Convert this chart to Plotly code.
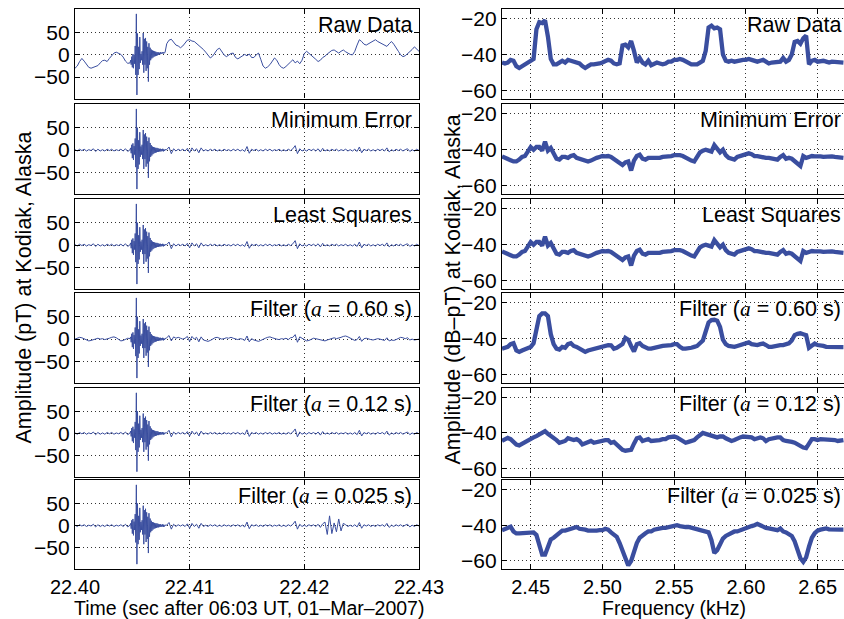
import numpy as np
import plotly.graph_objects as go

# ---------------- Left column: time series (pT) ----------------
T_PRE_START, T_PRE_STEP = 22.4000, 0.0002
T_BURST_START, T_BURST_STEP = 22.4048, 0.00005
T_POST_START, T_POST_STEP = 22.4080, 0.0002

raw_pre = [-30, -25, -15, -8, -14, -22, -28, -30, -28, -26, -24, -18, -13, -12, -15, -8,
           -2, 4, 6, 3, 1, -5, -14, -19]
raw_burst = [-18, -12, -22, -4, -28, 2, -30, 0, -20, 20, -45, 92, -90, 48, -45, 18, -32, 40,
             -18, 2, -12, 8, -22, 49, -40, 36, -22, 38, -36, 30, -30, 18, -60, 26, -22, 16,
             -12, 12, -8, 10, -6, 9, -4, 8, -3, 7, -2, 6, -1, 6, 0, 5, 1, 6, 2, 5, 3, 6, 3, 6, 4, 5]
raw_post = [25, 33, 35, 28, 22, 20, 16, 20, 28, 33, 34, 31, 30, 26, 22, 18, 12, 6, -2, -7,
            -3, 5, 12, 15, 8, 0, -4, 0, 3, 4, -6, -9, -6, -2, 1, -2, 2, -6, -6, 0,
            4, -10, -25, -30, -27, -22, -14, -7, -12, -22, -28, -30, -26, -22, -16, -11, -18, -14, -20, -12,
            3, 8, 4, 0, -5, -10, -15, -12, -6, -3, 2, 6, 10, 11, 7, 4, 8, 11, 7, 3,
            1, 0, 8, 22, 34, 30, 24, 22, 25, 28, 31, 34, 30, 27, 25, 21, 19, 25, 30, 24,
            17, 8, 0, -4, -2, 2, 6, 12, 18, 14, 8]

clean_pre = [1, -2, 2, -1, 2, -2, 1, -1, 3, -3, 2, -2, 1, -2, 2, -1, 2, -2, 1, -1, 2, -2, 3, -3]
clean_burst = [1, 5, -7, 12, -18, 15, -22, 9, -10, 26, -38, 92, -87, 50, -42, 22, -32, 40,
               -15, 8, -10, 12, -20, 45, -42, 35, -20, 38, -37, 30, -30, 20, -62, 28, -25, 16,
               -15, 11, -12, 8, -9, 7, -7, 6, -6, 5, -5, 5, -4, 4, -4, 3, -3, 3, -3, 2, -2, 3, -3, 2, -2, 1]
clean_post = [1, 7, -8, 3, -2, 2, -1, 2, -2, 4, -6, 5, -2, 3, -6, 5, -2, 1, -2, 2,
              -1, 2, -2, 1, -2, 2, -1, 1, -2, 2, -1, 2, -2, 1, -3, 8, -7, 2, -1, 2,
              -2, 1, -2, 2, -1, 2, -2, 1, -1, 2, -2, 1, -2, 2, -1, 3, 10, -8, 3, -2,
              1, -2, 2, -1, 2, -2, 3, -4, 4, -2, 1, -2, 2, -1, 2, -2, 1, -1, 2, -2,
              1, -2, 2, -3, 7, -6, 2, -1, 2, -2, 1, -2, 2, -1, 2, -2, 5, -4, 1, -2,
              2, -1, 2, -2, 1, 3, -3, 1, -2, 2, -1]
f060_pre = [0, 2, 4, 3, 1, -2, -4, -3, -1, 1, 2, 0, 1, -1, 0, 2, 4, 5, 3, -1, -4, -3, 0, 2]
f060_post = [3, 8, -4, 5, 2, 4, 2, 0, 2, 6, -5, 6, 0, 4, -6, 5, -2, -4, -5, -3,
             0, 3, 4, 2, 0, 1, 3, 2, 4, 2, 0, -1, 1, 0, -3, 7, -6, 1, -2, -4,
             -5, -3, 0, 2, 4, 5, 3, 1, 0, -1, 1, 0, 2, -1, 3, 4, 10, -7, 5, 2,
             -2, -4, -3, 0, 2, 1, 0, -2, -3, -4, -2, 0, 2, 3, 1, 2, 4, 6, 7, 5,
             2, -1, -3, -1, 6, -5, 1, 2, 0, -1, -2, -1, 1, 0, -2, -3, 3, -4, -2, -3,
             -1, 2, 4, 3, 1, 3, -2, 0, -2, -1, 0]
late_burst_025 = [8, -20, 22, -18, 6, -14, 15, -12, 5]   # 22.4218-22.4234 s
LATE_BURST_INDEX = 69

# ---------------- Right column: spectra (dB-pT) ----------------
F_START, F_STEP = 2.430, 0.002
spec_raw = [-44.5, -45, -44.5, -43, -43.5, -46.5, -47.5, -46.5, -46, -44.5, -44, -42.5, -26, -22, -22.5, -21,
            -30, -42.5, -45.5, -45.5, -44.5, -43.5, -44.5, -43, -43.5, -44, -44, -45, -46.5, -47.5, -46.5, -45.5,
            -45.5, -45.5, -45, -44.5, -44, -43, -43.5, -45, -45.5, -45, -35, -34.5, -36, -32.5, -38, -44.5,
            -42, -44.5, -45.5, -43.5, -46, -45.5, -44.5, -45, -45.5, -45, -44, -44, -43, -43, -42.5, -43,
            -44, -45, -45.5, -45.5, -45.5, -44.5, -43.5, -38, -25, -24, -25.5, -25, -26, -40, -43.5, -44,
            -43.5, -44, -43.5, -43.5, -43, -43, -42.5, -43, -43.5, -44, -43.5, -43, -44, -45, -44.5, -44.5,
            -44, -44, -42, -44, -43, -40, -33, -32.5, -34, -31, -29.5, -45.5, -43.5, -43, -44, -43.5,
            -43.5, -44, -44.5, -44, -44, -44.5, -44.5, -44.5]
spec_min_err = [-43.7, -44.2, -44.8, -45.8, -46.5, -46.5, -45.5, -44, -43.5, -41, -38.5, -40, -38.5, -38.5, -40.5, -35.5,
                -40.5, -39, -41.5, -45, -45.5, -44, -44, -44.5, -43.5, -43, -44.5, -45, -45.5, -46, -46.5, -46,
                -45, -44.5, -44, -43.5, -43.7, -43.5, -44, -45, -46, -47.5, -48.5, -47, -46.5, -51.5, -46, -43.5,
                -42.8, -45, -45.5, -44.5, -44.5, -45, -45, -44.5, -44, -44, -43.5, -43.5, -43, -42.8, -43, -43.5,
                -44.5, -45, -46, -46.5, -44, -41.5, -40.5, -40, -40.5, -41, -37.5, -39.5, -41.5, -40, -43, -44.5,
                -45, -45.5, -44, -43.5, -43, -42.8, -42, -42.5, -43.5, -43.5, -44, -44.5, -44.5, -44.5, -45, -45,
                -45.5, -44, -43, -45, -44.5, -45, -46.5, -48, -49, -43.5, -44.5, -44, -43.5, -43.7, -43.5, -43.7,
                -44, -43.7, -43.5, -43.7, -44, -44.2, -44.5, -44.5]
spec_f060 = [-45.5, -44.8, -44.5, -43, -42.5, -46.5, -47.3, -46.5, -46, -45, -44.5, -42.5, -36, -27.5, -26, -26,
             -27.5, -37.5, -43, -45.5, -46, -44.5, -45, -43, -42.5, -44, -44.5, -45.5, -46.5, -47.3, -46.5, -46,
             -45.5, -45, -44.5, -44.5, -44, -43.5, -43.6, -45.5, -45, -44, -43, -39.5, -40.5, -44, -47, -43,
             -42.5, -44, -45, -45.5, -45.5, -45, -44.5, -44.5, -44, -43.8, -43.8, -43.5, -43, -43, -44.5, -45.5,
             -45.5, -45.5, -45, -44.5, -44, -42.5, -41, -36, -31, -29.7, -29.5, -30, -33.5, -40.5, -43, -44,
             -44.5, -44.5, -44, -43.5, -43, -42.5, -42, -43, -43.5, -43.5, -43, -42.7, -43.5, -44.5, -44.5, -44,
             -43.5, -43.5, -43.5, -43, -42.5, -41, -38, -37.3, -37, -37.5, -38, -45, -44, -42.7, -43.5, -43.5,
             -44, -44.5, -44.5, -44.5, -44.5, -44.5, -44.6, -44.6]
spec_f012 = [-44.5, -43.5, -42.8, -43.5, -45, -46.5, -47, -46, -45, -44, -43.5, -42.5, -41.8, -41, -40, -39,
             -40.5, -41.5, -42.5, -44, -45.5, -45, -44.5, -43, -43.5, -44, -43.5, -44.5, -46.5, -46, -45, -44.5,
             -45.5, -45, -44.5, -44.5, -44, -44, -45.5, -45, -46.5, -48, -49.5, -50, -50, -49.5, -46, -43,
             -42.5, -44.5, -44, -43.5, -44.5, -44.5, -44, -44, -43.5, -43.5, -42.5, -42, -42, -42.5, -43.5, -44.5,
             -45.5, -45, -44.5, -44, -42.5, -41, -40, -40.5, -41, -42, -42, -42.5, -42, -42, -43, -44,
             -44.5, -44, -43, -42.5, -42, -42, -42, -42.5, -43.5, -43, -42.5, -43, -44.5, -43.5, -43, -43,
             -42.5, -42.5, -44, -44.5, -44.5, -45, -45.5, -46.5, -47.5, -48.2, -48.5, -46, -43.5, -43.5, -44, -43.5,
             -43.5, -44, -44, -44, -44, -44.5, -44, -44]
spec_f025 = [-42.8, -42, -41.5, -40.8, -43.5, -44.6, -44.6, -44.5, -44, -43.7, -43.7, -44, -45.5, -50.5, -56.5, -56.5,
             -52, -48, -47, -45.5, -44.5, -43, -43, -42.5, -42, -41, -41, -42, -42, -42.5, -43, -43,
             -43.5, -43, -42.8, -42.8, -42, -42.5, -44, -45, -46.5, -50, -54, -57, -62.5, -60, -54, -50,
             -47, -45.5, -44.5, -43.5, -43.5, -42.5, -42, -42, -41.5, -41.5, -41, -41, -40.5, -40, -40.5, -41,
             -41, -41, -41.5, -41.5, -42, -42.5, -43, -43.5, -44, -48.3, -55.5, -54, -50, -47.5, -46, -45,
             -44.5, -43.5, -43.5, -42.8, -42.5, -42, -41, -40.5, -40, -39.2, -40, -41, -41.5, -41.8, -42, -42.5,
             -42.8, -41.8, -43.5, -44, -45, -46, -49, -54.5, -58.5, -60.5, -58, -52, -47, -44.5, -43, -42.5,
             -42, -41.8, -42.3, -42.5, -42.5, -42.5, -42.5, -42.5]

panel_labels = ["Raw Data", "Minimum Error", "Least Squares",
                "Filter (<span style=\"font-family:Liberation Serif\"><i>a</i></span> = 0.60 s)",
                "Filter (<span style=\"font-family:Liberation Serif\"><i>a</i></span> = 0.12 s)",
                "Filter (<span style=\"font-family:Liberation Serif\"><i>a</i></span> = 0.025 s)"]
time_ticks = [22.40, 22.41, 22.42, 22.43]
freq_ticks = [2.45, 2.50, 2.55, 2.60, 2.65]
amp_ticks = [-50, 0, 50]
db_ticks = [-60, -40, -20]

# ---------------- assemble series ----------------
t_pre = T_PRE_START + T_PRE_STEP * np.arange(len(clean_pre))
t_burst = T_BURST_START + T_BURST_STEP * np.arange(len(clean_burst))
t_post = T_POST_START + T_POST_STEP * np.arange(len(clean_post))
t_all = np.concatenate([t_pre, t_burst, t_post])

post_025 = (clean_post[:LATE_BURST_INDEX] + late_burst_025 +
            clean_post[LATE_BURST_INDEX + len(late_burst_025):])
left_series = [
    raw_pre + raw_burst + raw_post,
    clean_pre + clean_burst + clean_post,
    clean_pre + clean_burst + clean_post,
    f060_pre + clean_burst + f060_post,
    clean_pre + clean_burst + clean_post,
    clean_pre + clean_burst + post_025,
]
freqs = F_START + F_STEP * np.arange(len(spec_raw))
right_series = [spec_raw, spec_min_err, spec_min_err, spec_f060, spec_f012, spec_f025]

# ---------------- layout ----------------
W, H = 844, 619
FONT = "Liberation Sans, Arial, Helvetica, sans-serif"
FS = 21.5
FS_TICK = 21
FS_XTICK = 20
FS_XTITLE = 19.5
LINE = "#3A4E9F"
ROW_TOPS = [9, 104, 199, 293, 388, 480]
ROW_BOTS = [98.5, 194, 289, 383, 476.5, 569]
LEFT_PX = (75, 419)
RIGHT_PX = (502, 844)

def ax_name(n, kind):
    return kind if n == 1 else f"{kind}{n}"

fig = go.Figure()
common = dict(showline=True, linecolor="black", linewidth=1.3, ticks="inside", ticklen=5,
              tickwidth=1, tickcolor="black", showgrid=True, gridcolor="rgba(0,0,0,0.8)",
              griddash="1px,3px", gridwidth=1, zeroline=False, automargin=False,
              tickfont=dict(size=FS_TICK, family=FONT, color="black"))
xfont = dict(size=FS_XTICK, family=FONT, color="black")
layout = {}
annotations = []
for i in range(6):
    yd = [1 - ROW_BOTS[i] / H, 1 - ROW_TOPS[i] / H]
    nl, nr = 2 * i + 1, 2 * i + 2
    fig.add_trace(go.Scatter(x=t_all, y=left_series[i], mode="lines",
                             line=dict(color=LINE, width=1), showlegend=False,
                             xaxis=ax_name(nl, "x"), yaxis=ax_name(nl, "y")))
    fig.add_trace(go.Scatter(x=freqs, y=right_series[i], mode="lines",
                             line=dict(color=LINE, width=4.3), showlegend=False,
                             xaxis=ax_name(nr, "x"), yaxis=ax_name(nr, "y")))
    layout["xaxis" if nl == 1 else f"xaxis{nl}"] = dict(
        common, domain=[LEFT_PX[0] / W, LEFT_PX[1] / W], anchor=ax_name(nl, "y"),
        range=[22.40, 22.43], tickvals=time_ticks, tickformat=".2f", mirror="ticks",
        showticklabels=(i == 5), tickfont=xfont)
    layout[f"yaxis{nl}" if nl > 1 else "yaxis"] = dict(
        common, domain=yd, anchor=ax_name(nl, "x"), range=[-98, 103], tickvals=amp_ticks,
        mirror="ticks")
    layout[f"xaxis{nr}"] = dict(
        common, domain=[RIGHT_PX[0] / W, 1.0], anchor=ax_name(nr, "y"),
        range=[2.430, 2.6684], tickvals=freq_ticks, tickformat=".2f", mirror="ticks",
        showticklabels=(i == 5), tickfont=xfont)
    layout[f"yaxis{nr}"] = dict(
        common, domain=yd, anchor=ax_name(nr, "x"), range=[-64.5, -14.7], tickvals=db_ticks,
        mirror=False)
    for xr, shift in ((LEFT_PX[1] / W, -5), (1.0, -1)):
        annotations.append(dict(text=panel_labels[i], xref="paper", yref="paper", x=xr,
                                xshift=shift, y=1 - (ROW_TOPS[i] + 16) / H, xanchor="right",
                                yanchor="middle", showarrow=False,
                                font=dict(size=FS, family=FONT, color="black")))

annotations += [
    dict(text="Amplitude (pT) at Kodiak, Alaska", textangle=-90, xref="paper", yref="paper",
         x=24 / W, y=1 - 287.5 / H, xanchor="center", yanchor="middle", showarrow=False,
         font=dict(size=FS, family=FONT, color="black")),
    dict(text="Amplitude (dB\u2013pT) at Kodiak, Alaska", textangle=-90, xref="paper", yref="paper",
         x=452 / W, y=1 - 289.5 / H, xanchor="center", yanchor="middle", showarrow=False,
         font=dict(size=FS, family=FONT, color="black")),
    dict(text="Time (sec after 06:03 UT, 01\u2013Mar\u20132007)", xref="paper", yref="paper",
         x=249 / W, y=1 - 608 / H, xanchor="center", yanchor="middle", showarrow=False,
         font=dict(size=FS_XTITLE, family=FONT, color="black")),
    dict(text="Frequency (kHz)", xref="paper", yref="paper",
         x=674 / W, y=1 - 608 / H, xanchor="center", yanchor="middle", showarrow=False,
         font=dict(size=FS_XTITLE, family=FONT, color="black")),
]

fig.update_layout(width=W, height=H,
                  margin=dict(l=0, r=0, t=0, b=0, pad=0, autoexpand=False),
                  paper_bgcolor="white", plot_bgcolor="white",
                  font=dict(family=FONT, size=FS, color="black"),
                  annotations=annotations, **layout)
fig.write_html("out.html")
